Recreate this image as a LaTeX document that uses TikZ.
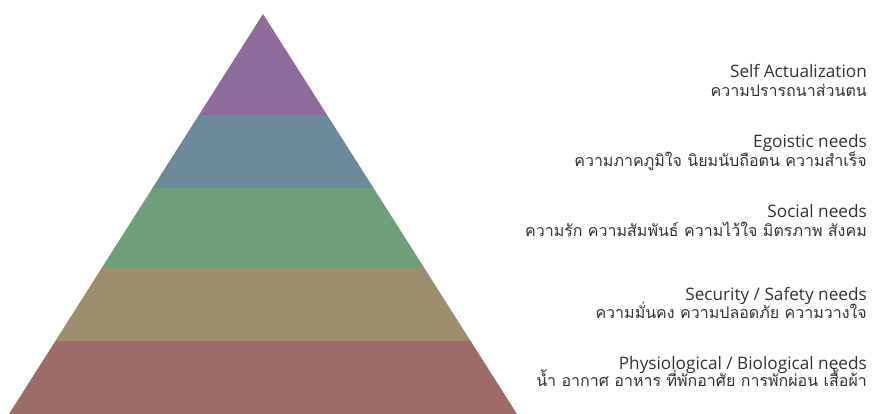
\documentclass[tikz,border=0pt]{standalone}
\usepackage{fontspec}
\setmainfont{Open Sans}
\newfontfamily\thaifont[Script=Thai]{Loma}
\definecolor{lay1}{HTML}{8E6D9C}
\definecolor{lay2}{HTML}{6D8A9B}
\definecolor{lay3}{HTML}{6F9E7D}
\definecolor{lay4}{HTML}{9C8E6C}
\definecolor{lay5}{HTML}{9C6C6B}
\definecolor{txt}{HTML}{333333}
\begin{document}
\begin{tikzpicture}[x=1pt,y=-1pt,
  entitle/.style={anchor=base east,inner sep=0pt,text=txt,font=\fontsize{17.2}{20}\selectfont},
  thtitle/.style={anchor=base east,inner sep=0pt,text=txt,font=\thaifont\fontsize{16}{19}\selectfont}]
\useasboundingbox (0,0) rectangle (872,414);
% pyramid layers
\fill[lay1] (263,14) -- (327.1,115) -- (198.9,115) -- cycle;
\fill[lay2] (198.9,115) -- (327.1,115) -- (373.5,188) -- (152.5,188) -- cycle;
\fill[lay3] (152.5,188) -- (373.5,188) -- (424.3,268) -- (101.7,268) -- cycle;
\fill[lay4] (101.7,268) -- (424.3,268) -- (470.6,341) -- (55.4,341) -- cycle;
\fill[lay5] (55.4,341) -- (470.6,341) -- (517,414) -- (9,414) -- cycle;
% labels
\node[entitle] (e1) at (867,78) {Self Actualization};
\node[thtitle] (t1) at (867,97) {ความปรารถนาส่วนตน};
\node[entitle] (e2) at (867,148) {Egoistic needs};
\node[thtitle] (t2) at (867,167) {ความภาคภูมิใจ นิยมนับถือตน ความสำเร็จ};
\node[entitle] (e3) at (867,217) {Social needs};
\node[thtitle] (t3) at (867,236) {ความรัก ความสัมพันธ์ ความไว้ใจ มิตรภาพ สังคม};
\node[entitle] (e4) at (867,300) {Security / Safety needs};
\node[thtitle] (t4) at (867,318) {ความมั่นคง ความปลอดภัย ความวางใจ};
\node[entitle] (e5) at (867,369) {Physiological / Biological needs};
\node[thtitle] (t5) at (867,386) {น้ำ อากาศ อาหาร ที่พักอาศัย การพักผ่อน เสื้อผ้า};
\end{tikzpicture}
\end{document}
